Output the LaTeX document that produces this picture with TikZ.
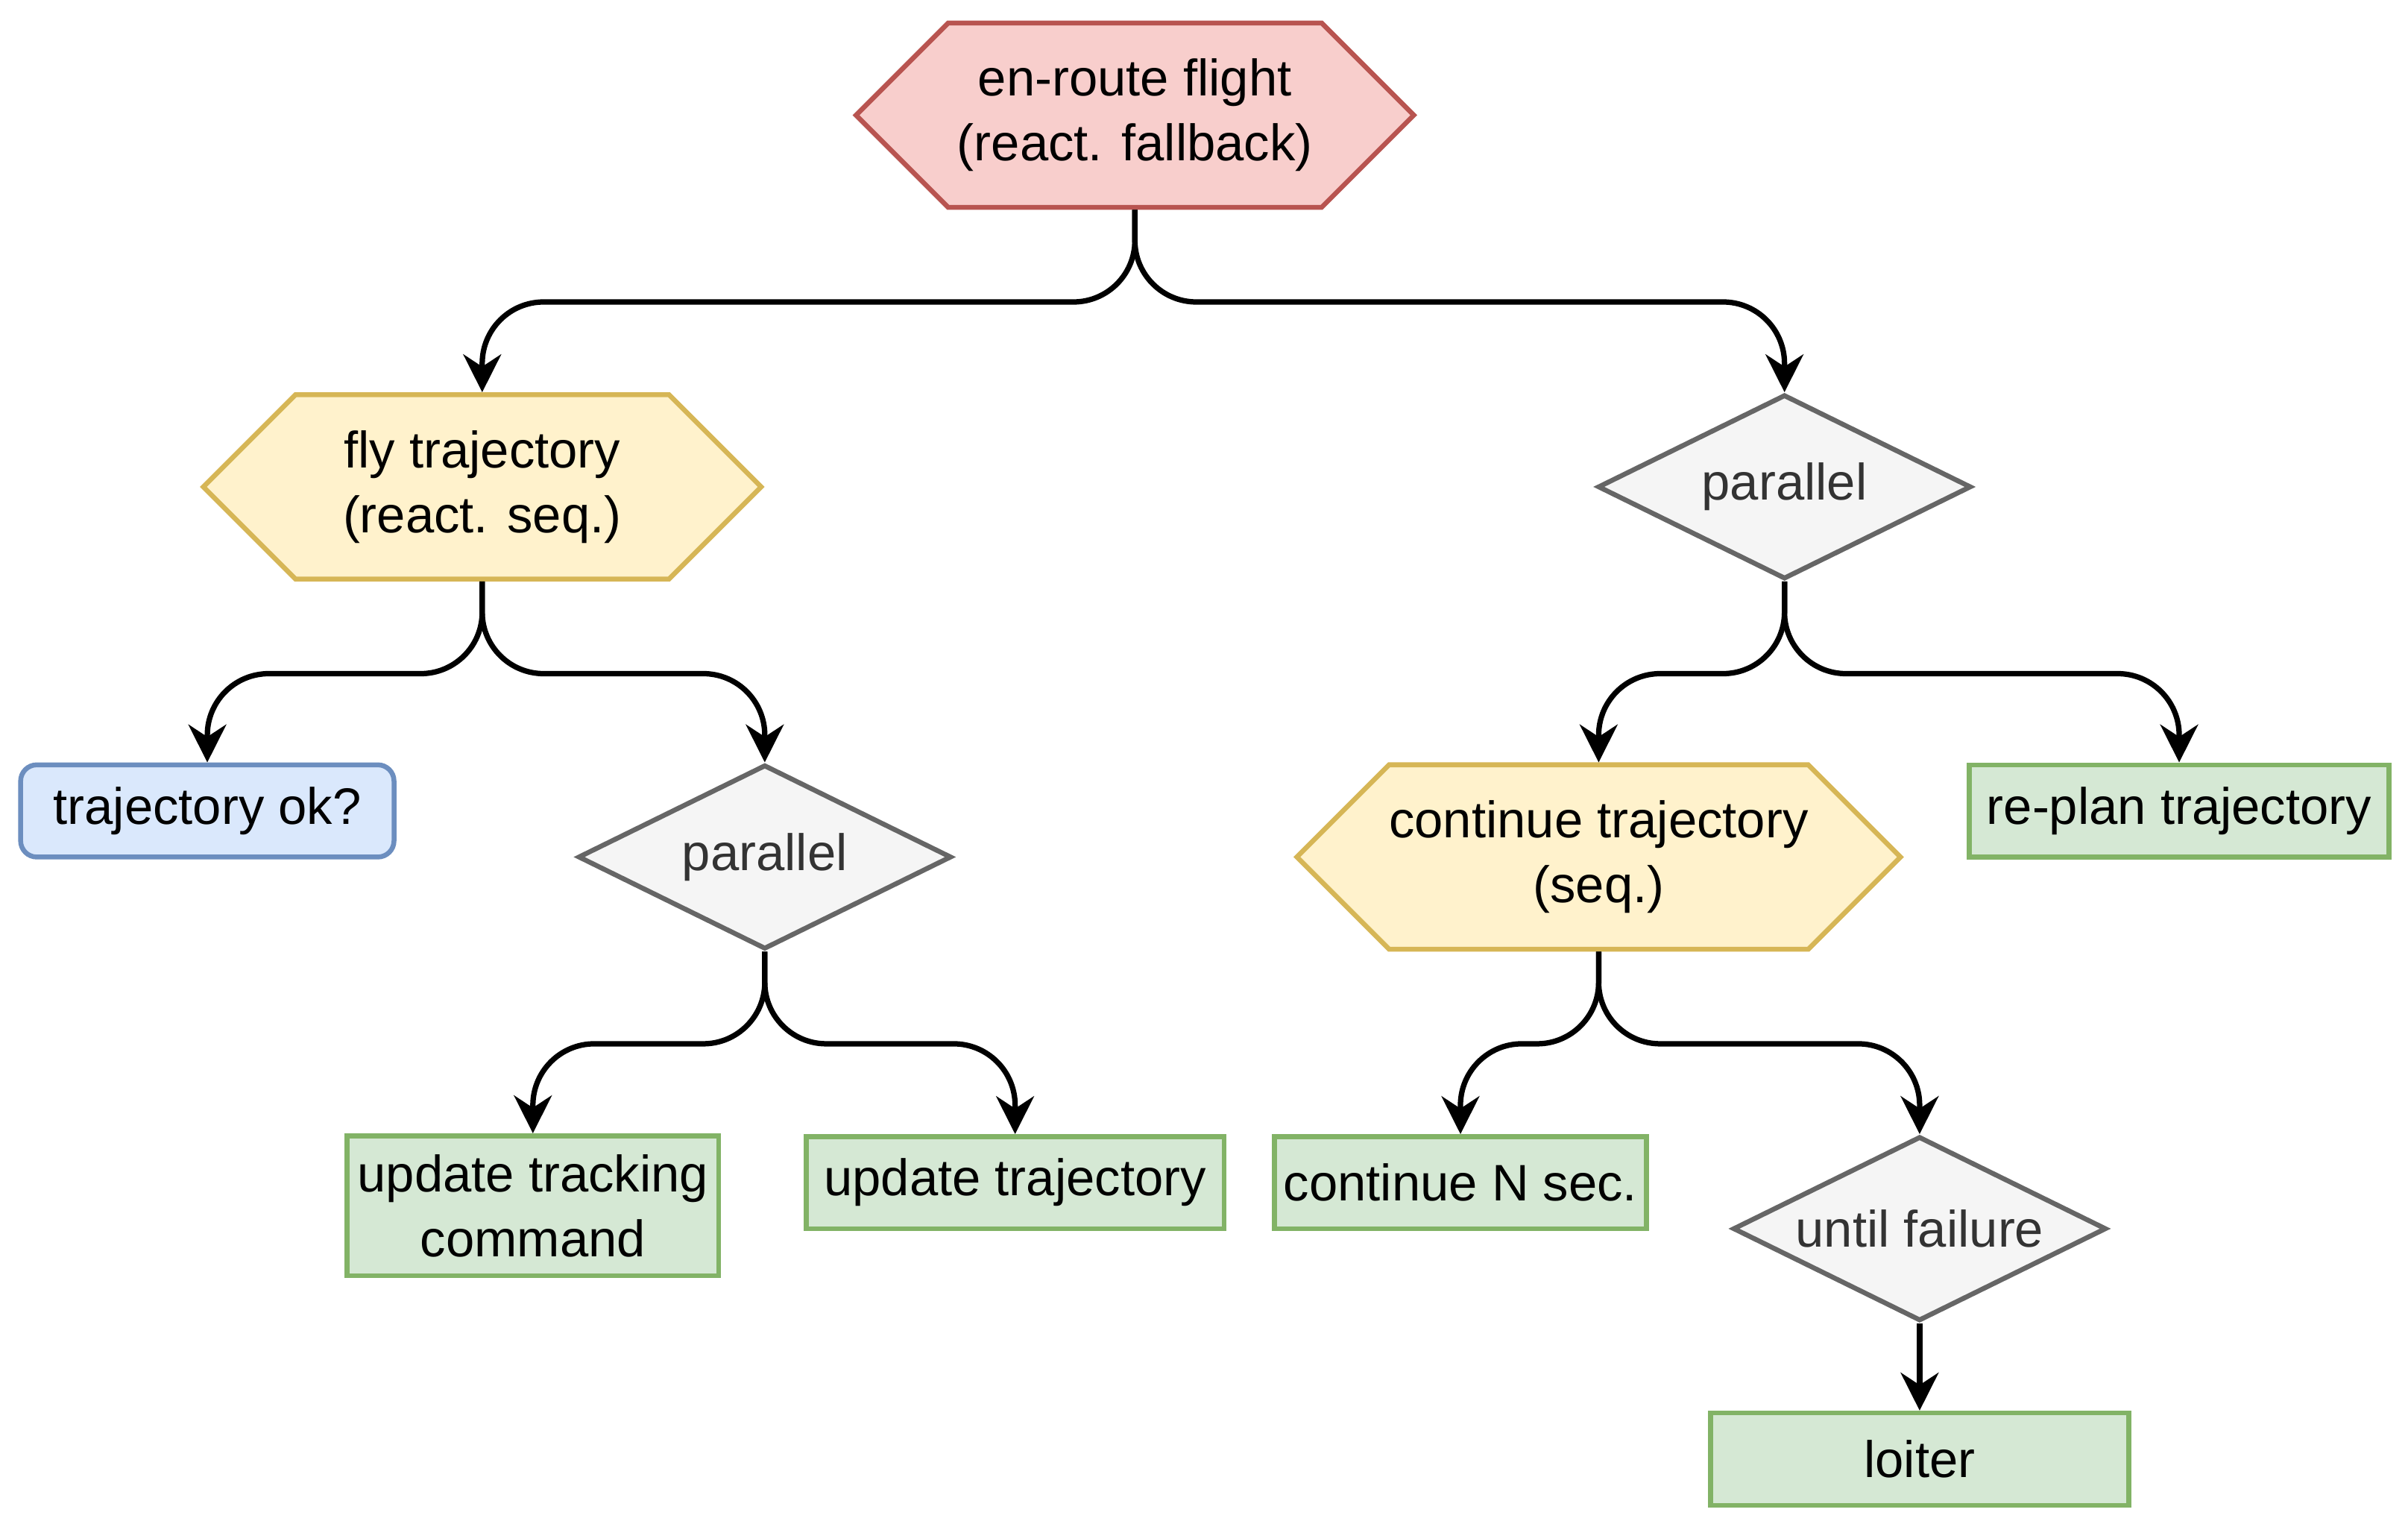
\documentclass[tikz,border=0pt]{standalone}
\usepackage{fontspec}
\setmainfont{Liberation Sans}
\usetikzlibrary{shapes.geometric,shapes.symbols,arrows.meta}
\definecolor{rf}{HTML}{F8CECC}\definecolor{rs}{HTML}{B85450}
\definecolor{yf}{HTML}{FFF2CC}\definecolor{ys}{HTML}{D6B656}
\definecolor{gf}{HTML}{F5F5F5}\definecolor{gs}{HTML}{666666}
\definecolor{bf}{HTML}{DAE8FC}\definecolor{bs}{HTML}{6C8EBF}
\definecolor{nf}{HTML}{D5E8D4}\definecolor{ns}{HTML}{82B366}
\begin{document}
\begin{tikzpicture}[x=0.01cm,y=-0.01cm,
  every node/.style={font=\fontsize{9.5}{12}\selectfont, align=center, line width=0.9pt, inner sep=0pt},
  hex/.style={shape=signal, signal to=west and east, signal pointer angle=90, draw, minimum width=3.63cm, minimum height=1.2cm},
  dia/.style={diamond, draw=gs, fill=gf, text=black!80, aspect=2.03, minimum width=2.43cm, minimum height=1.2cm},
  box/.style={rectangle, draw=ns, fill=nf, minimum height=0.6cm},
  e/.style={line width=1pt, -{Stealth[length=7pt,width=7pt]}, rounded corners=0.4cm}]
\useasboundingbox (0,0) rectangle (1568,992);
\node[hex, draw=rs, fill=rf] (root) at (739,75) {en-route flight\\(react. fallback)};
\node[hex, draw=ys, fill=yf] (fly) at (314,317) {fly trajectory\\(react. seq.)};
\node[dia] (parR) at (1162,317) {parallel};
\node[rectangle, rounded corners=3pt, draw=bs, fill=bf, minimum width=2.43cm, minimum height=0.6cm] (ok) at (135,528) {trajectory ok?};
\node[dia] (parL) at (498,558) {parallel};
\node[hex, draw=ys, fill=yf] (cont) at (1041,558) {continue trajectory\\(seq.)};
\node[box, minimum width=2.73cm] (replan) at (1419,528) {re-plan trajectory};
\node[box, minimum width=2.42cm, minimum height=0.91cm] (track) at (347,785) {update tracking\\command};
\node[box, minimum width=2.72cm] (utraj) at (661,770) {update trajectory};
\node[box, minimum width=2.42cm] (contN) at (951,770) {continue N sec.};
\node[dia] (until) at (1250,800) {until failure};
\node[box, minimum width=2.72cm] (loiter) at (1250,950) {loiter};
\draw[e] (root.south) -- ++(0,60) -| (fly.north);
\draw[e] (root.south) -- ++(0,60) -| (parR.north);
\draw[e] (fly.south) -- ++(0,60) -| (ok.north);
\draw[e] (fly.south) -- ++(0,60) -| (parL.north);
\draw[e] (parL.south) -- ++(0,60) -| (track.north);
\draw[e] (parL.south) -- ++(0,60) -| (utraj.north);
\draw[e] (parR.south) -- ++(0,60) -| (cont.north);
\draw[e] (parR.south) -- ++(0,60) -| (replan.north);
\draw[e] (cont.south) -- ++(0,60) -| (contN.north);
\draw[e] (cont.south) -- ++(0,60) -| (until.north);
\draw[e] (until.south) -- (loiter.north);
\end{tikzpicture}
\end{document}
